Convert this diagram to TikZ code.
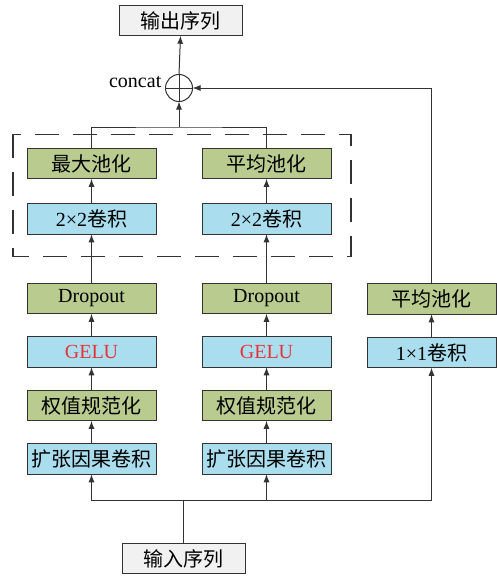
\documentclass[tikz,border=0pt]{standalone}
\usepackage{fontspec}
\setmainfont{Liberation Serif}
\newfontfamily\cjk{Noto Sans CJK SC}
\usetikzlibrary{arrows.meta,positioning,calc}
\definecolor{BoxGreen}{HTML}{B9CB8F}
\definecolor{BoxBlue}{HTML}{AADEEE}
\definecolor{BoxGray}{HTML}{F1F1F2}
\definecolor{LineDark}{HTML}{333333}
\definecolor{ActRed}{HTML}{E5323B}

\begin{document}
\begin{tikzpicture}[
    x=1pt, y=1pt,
    font=\fontsize{20}{23}\selectfont,
    node distance=23pt,
    greenbox/.style={rectangle, draw=LineDark, line width=1pt, fill=BoxGreen, minimum width=129pt, minimum height=30.5pt, inner sep=0pt, outer sep=0pt},
    bluebox/.style={greenbox, fill=BoxBlue},
    iobox/.style={greenbox, fill=BoxGray, minimum width=123pt},
    sumnode/.style={circle, draw=LineDark, line width=1pt, minimum size=27pt, inner sep=0pt, outer sep=0pt},
    arrow/.style={-{Latex[length=8pt,width=6pt]}, line width=1pt, draw=LineDark},
    line/.style={line width=1pt, draw=LineDark},
    dashbox/.style={line width=1.2pt, draw=LineDark, dash pattern=on 24pt off 14pt}
]
\useasboundingbox (0,0) rectangle (496,-578);

% 左分支
\node[bluebox] (dil1) at (91.5,-459) {\cjk 扩张因果卷积};
\node[greenbox, above=of dil1] (wn1) {\cjk 权值规范化};
\node[bluebox, above=of wn1] (gelu1) {\textcolor{ActRed}{GELU}};
\node[greenbox, above=of gelu1] (drop1) {Dropout};
\node[bluebox, above=49pt of drop1] (conv1) {2×2{\cjk 卷积}};
\node[greenbox, above=25pt of conv1] (maxp) {\cjk 最大池化};

% 中分支
\node[bluebox] (dil2) at (266.5,-459) {\cjk 扩张因果卷积};
\node[greenbox, above=of dil2] (wn2) {\cjk 权值规范化};
\node[bluebox, above=of wn2] (gelu2) {\textcolor{ActRed}{GELU}};
\node[greenbox, above=of gelu2] (drop2) {Dropout};
\node[bluebox, above=49pt of drop2] (conv2) {2×2{\cjk 卷积}};
\node[greenbox, above=25pt of conv2] (avgp) {\cjk 平均池化};

% 右分支
\node[bluebox] (cv1x1) at (431.5,-352.5) {1×1{\cjk 卷积}};
\node[greenbox, above=of cv1x1] (rpool) {\cjk 平均池化};

% 输入输出与拼接
\node[iobox] (in) at (183.5,-558.5) {\cjk 输入序列};
\node[iobox] (out) at (180.5,-20.5) {\cjk 输出序列};
\node[sumnode] (sum) at (179,-88) {};
\draw[line] (sum.north) -- (sum.south) (sum.west) -- (sum.east);
\node[left=4pt of sum, yshift=6pt, inner sep=0pt] (catlbl) {concat};

% 虚线框
\draw[dashbox] ($(maxp.north west)+(-14,14)$) rectangle ($(avgp.east |- conv2.south)+(20,-22)$);

% 输入分叉
\coordinate (split) at ($(in.north)+(0,43)$);
\draw[line] (in.north) -- (split);
\draw[arrow] (split) -| (dil1.south);
\draw[arrow] (split) -| (dil2.south);
\draw[arrow] (split) -| (cv1x1.south);

% 各列顺次相连
\foreach \a/\b in {dil1/wn1, wn1/gelu1, gelu1/drop1, drop1/conv1, conv1/maxp,
                   dil2/wn2, wn2/gelu2, gelu2/drop2, drop2/conv2, conv2/avgp, cv1x1/rpool}
    \draw[arrow] (\a.north) -- (\b.south);

% 汇合到拼接
\coordinate (merge) at ($(sum.south)+(0,-25.5)$);
\draw[line] (maxp.north) |- (merge) -| (avgp.north);
\draw[arrow] (merge) -- (sum.south);
\draw[arrow] (rpool.north) |- (sum.east);
\draw[arrow] (sum.north) -- (out.south);

\end{tikzpicture}
\end{document}
